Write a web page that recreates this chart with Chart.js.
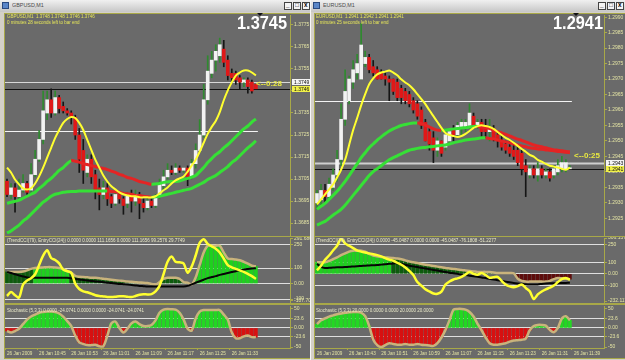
<!DOCTYPE html>
<html><head><meta charset="utf-8">
<script src="https://cdn.jsdelivr.net/npm/chart.js@4.4.1/dist/chart.umd.min.js"></script>
<style>
html,body{margin:0;padding:0}
body{width:625px;height:360px;overflow:hidden;background:#d4d0c8;position:relative;font-family:"Liberation Sans",Arial,sans-serif}
.title{position:absolute;top:0;height:12px;background:linear-gradient(#f0f0f0,#c6c6c6)}
.icon{position:absolute;left:2px;top:2px;width:7px;height:7px;background:#5a86c8;border:1px solid #2a4a80;box-sizing:border-box}
.tt{position:absolute;left:12px;top:2px;font-size:9px;color:#4a4a4a;transform:scale(0.6);transform-origin:0 0;white-space:nowrap}
.btn{position:absolute;top:2px;width:8px;height:8px;border:1px solid #444;background:#f4f4f4;box-sizing:border-box}
.btn b{position:absolute;left:1px;top:-1px;font-size:9px;line-height:9px;transform:scale(0.7);transform-origin:0 0;color:#000}
.frame{position:absolute;top:13px;height:346px;background:#6a6a6a;border-left:1px solid #a8a848;border-top:1px solid #a8a848;box-sizing:border-box}
.hl{position:absolute;height:1px;background:#a8a848}
canvas{position:absolute}
.s{position:absolute;white-space:nowrap;font-size:9px;line-height:9px;transform:scale(0.5);transform-origin:0 0;z-index:5}
.big{position:absolute;white-space:nowrap;font-size:19px;line-height:19px;font-weight:bold;color:#fff;transform:scaleX(0.86);transform-origin:0 0;z-index:5}
.arr{position:absolute;white-space:nowrap;font-size:8px;line-height:8px;font-weight:bold;color:#e8e840;z-index:5}
.tri{position:absolute;width:0;height:0;border-left:3px solid transparent;border-right:3px solid transparent;border-top:3px solid #111;z-index:5}
</style></head>
<body>
<!-- window chrome -->
<div class="title" style="left:0;width:310px"><div class="icon"></div><div class="tt">GBPUSD,M1</div>
  <div class="btn" style="left:284px"><b>_</b></div><div class="btn" style="left:293px"><b>□</b></div><div class="btn" style="left:302px"><b>x</b></div></div>
<div class="title" style="left:311px;width:314px"><div class="icon"></div><div class="tt">EURUSD,M1</div>
  <div class="btn" style="left:287px"><b>_</b></div><div class="btn" style="left:296px"><b>□</b></div><div class="btn" style="left:305px"><b>x</b></div></div>
<div style="position:absolute;left:310px;top:0;width:1px;height:360px;background:#f6f6f6"></div>
<div class="frame" style="left:4px;width:306px"></div>
<div class="frame" style="left:314px;width:311px"></div>
<div class="hl" style="left:4px;width:306px;top:236px"></div>
<div class="hl" style="left:4px;width:306px;top:303px;height:2px"></div>
<div class="hl" style="left:4px;width:306px;top:358px"></div>
<div class="hl" style="left:314px;width:311px;top:236px"></div>
<div class="hl" style="left:314px;width:311px;top:303px;height:2px"></div>
<div class="hl" style="left:314px;width:311px;top:358px"></div>

<canvas id="mainL" width="305" height="222" style="left:5px;top:14px"></canvas>
<canvas id="cciL" width="305" height="66" style="left:5px;top:237px"></canvas>
<canvas id="stoL" width="305" height="53" style="left:5px;top:305px"></canvas>
<canvas id="mainR" width="310" height="222" style="left:315px;top:14px"></canvas>
<canvas id="cciR" width="310" height="66" style="left:315px;top:237px"></canvas>
<canvas id="stoR" width="310" height="53" style="left:315px;top:305px"></canvas>

<!-- text overlays -->
<div class="s" style="left:7px;top:14px;color:#e6e65a">GBPUSD,M1&nbsp; 1.3748 1.3748 1.3746 1.3746</div>
<div class="s" style="left:7px;top:20px;color:#e6e65a">0 minutes 28 seconds left to bar end</div>
<div class="tri" style="left:257px;top:13px"></div>
<div class="big" style="left:237px;top:13px">1.3745</div>
<div class="arr" style="left:256px;top:80px">&lt;--0:28</div>
<div class="s" style="left:7px;top:238px;color:#e8e8c8">(TrendCCI(79), EntryCCI(24)) 0.0000 0.0000 111.1656 0.0000 111.1656 99.2576 29.7749</div>
<div class="s" style="left:7px;top:308px;color:#e8e8c8">Stochastic (5,3,3) 0.0000 -24.0741 0.0000 0.0000 -24.0741 -24.0741</div>

<div class="s" style="left:316px;top:14px;color:#e6e65a">EURUSD,M1&nbsp; 1.2941 1.2942 1.2941 1.2941</div>
<div class="s" style="left:316px;top:20px;color:#e6e65a">0 minutes 25 seconds left to bar end</div>
<div class="tri" style="left:573px;top:13px"></div>
<div class="big" style="left:553px;top:13px">1.2941</div>
<div class="arr" style="left:574px;top:152px">&lt;--0:25</div>
<div class="s" style="left:316px;top:238px;color:#e8e8c8">(TrendCCI(79), EntryCCI(24)) 0.0000 -45.0487 0.0000 0.0000 -45.0487 -76.1808 -51.2277</div>
<div class="s" style="left:316px;top:308px;color:#e8e8c8">Stochastic (5,3,3) 20.0000 0.0000 0.0000 20.0000 20.0000</div>

<script>
// ---------------- DATA ----------------
const leftTimes = ['26 Jan 2009','26 Jan 10:45','26 Jan 10:53','26 Jan 11:01','26 Jan 11:09','26 Jan 11:17','26 Jan 11:25','26 Jan 11:33'];
const rightTimes = ['26 Jan 2009','26 Jan 10:43','26 Jan 10:51','26 Jan 10:59','26 Jan 11:07','26 Jan 11:15','26 Jan 11:23','26 Jan 11:31','26 Jan 11:39'];

// GBPUSD M1
const gbpOpen = [1.3704,1.3698,1.3701,1.3697,1.3700,1.3703,1.3700,1.3707,1.3714,1.3723,
 1.3735,1.3741,1.3735,1.3742,1.3738,1.3736,1.3735,1.3733,1.3725,1.3718,
 1.3708,1.3714,1.3707,1.3701,1.3698,1.3701,1.3697,1.3694,1.3698,1.3696,
 1.3694,1.3698,1.3695,1.3698,1.3694,1.3692,1.3695,1.3693,1.3697,1.3702,
 1.3706,1.3709,1.3708,1.3710,1.3709,1.3710,1.3706,1.3712,1.3718,1.3725,
 1.3741,1.3753,1.3759,1.3761,1.3764,1.3759,1.3753,1.3753,1.3751,1.3749,
 1.3750,1.3749,1.3748];
const gbpHigh = [1.3705,1.3703,1.3703,1.3705,1.3707,1.3704,1.3712,1.3718,1.3727,1.3745,
 1.3745,1.3746,1.3745,1.3743,1.3740,1.3737,1.3736,1.3734,1.3728,1.3723,
 1.3716,1.3716,1.3709,1.3705,1.3704,1.3703,1.3698,1.3699,1.3699,1.3697,
 1.3699,1.3700,1.3700,1.3699,1.3696,1.3697,1.3696,1.3698,1.3705,1.3709,
 1.3712,1.3711,1.3712,1.3711,1.3710,1.3711,1.3714,1.3721,1.3732,1.3748,
 1.3761,1.3763,1.3766,1.3769,1.3768,1.3761,1.3755,1.3754,1.3752,1.3751,
 1.3751,1.3750,1.3748];
const gbpLow = [1.3697,1.3696,1.3690,1.3696,1.3699,1.3698,1.3699,1.3706,1.3713,1.3721,
 1.3732,1.3733,1.3734,1.3735,1.3735,1.3734,1.3730,1.3723,1.3708,1.3703,
 1.3706,1.3703,1.3696,1.3691,1.3696,1.3693,1.3692,1.3693,1.3694,1.3689,
 1.3692,1.3690,1.3693,1.3687,1.3690,1.3691,1.3692,1.3692,1.3696,1.3700,
 1.3705,1.3707,1.3707,1.3708,1.3708,1.3702,1.3705,1.3710,1.3717,1.3724,
 1.3739,1.3751,1.3754,1.3758,1.3756,1.3750,1.3749,1.3748,1.3746,1.3747,
 1.3744,1.3744,1.3746];
const gbpClose = [1.3698,1.3701,1.3697,1.3700,1.3703,1.3699,1.3707,1.3714,1.3723,1.3736,
 1.3741,1.3735,1.3742,1.3737,1.3736,1.3735,1.3733,1.3725,1.3714,1.3709,
 1.3714,1.3706,1.3700,1.3698,1.3701,1.3696,1.3694,1.3698,1.3696,1.3693,
 1.3698,1.3695,1.3698,1.3694,1.3692,1.3695,1.3693,1.3697,1.3703,1.3706,
 1.3709,1.3708,1.3710,1.3709,1.3710,1.3706,1.3712,1.3718,1.3725,1.3741,
 1.3754,1.3759,1.3763,1.3766,1.3758,1.3752,1.3751,1.3750,1.3749,1.3750,
 1.3747,1.3745,1.3746];
const gbpFastMA = [1.37102,1.37080,1.37048,1.37026,1.37008,1.37003,1.37008,1.37030,1.37062,1.37102,
 1.37147,1.37192,1.37237,1.37273,1.37305,1.37323,1.37332,1.37327,1.37305,1.37273,
 1.37228,1.37183,1.37138,1.37102,1.37066,1.37039,1.37017,1.37003,1.36990,1.36981,
 1.36976,1.36972,1.36972,1.36967,1.36967,1.36967,1.36967,1.36972,1.36985,1.36999,
 1.37012,1.37030,1.37044,1.37053,1.37062,1.37084,1.37111,1.37138,1.37174,1.37215,
 1.37255,1.37287,1.37314,1.37354,1.37408,1.37453,1.37489,1.37520,1.37534,1.37543,
 1.37543,1.37534,1.37520];
const gbpMidMA = [1.36940,1.36945,1.36949,1.36954,1.36963,1.36972,1.36981,1.36990,1.37008,1.37021,
 1.37039,1.37053,1.37071,1.37089,1.37102,1.37120,1.37134,1.37131,1.37127,1.37120,
 1.37116,1.37111,1.37107,1.37102,1.37098,1.37093,1.37086,1.37080,1.37071,1.37066,
 1.37057,1.37053,1.37046,1.37039,1.37035,1.37030,1.37026,1.37028,1.37030,1.37035,
 1.37037,1.37039,1.37039,1.37041,1.37048,1.37053,1.37059,1.37066,1.37084,1.37102,
 1.37125,1.37143,1.37161,1.37174,1.37192,1.37206,1.37224,1.37242,1.37260,1.37278,
 1.37291,1.37309,1.37323];
const gbpSlowMA = [1.36805,1.36814,1.36828,1.36841,1.36859,1.36873,1.36891,1.36909,1.36927,1.36945,
 1.36958,1.36972,1.36981,1.36985,1.36990,1.36992,1.36994,1.36994,1.36996,1.36996,
 1.36996,1.36996,1.36996,1.36996,1.36996,1.36996,1.36994,1.36992,1.36990,1.36985,
 1.36983,1.36981,1.36976,1.36974,1.36972,1.36970,1.36967,1.36970,1.36972,1.36976,
 1.36981,1.36985,1.36990,1.36994,1.36999,1.37003,1.37008,1.37017,1.37026,1.37035,
 1.37048,1.37057,1.37066,1.37080,1.37093,1.37107,1.37125,1.37138,1.37156,1.37174,
 1.37192,1.37206,1.37224];
const gbpTrendCCI = [75,75,75,75,78,85,95,100,102,104,
 106,106,104,101,95,80,70,50,44,42,
 40,38,37,35,31,28,25,22,19,16,
 13,11,9,7,6,3,-2,-6,10,30,
 37,37,37,30,10,6,-6,40,120,200,
 244,244,244,244,200,162,158,155,150,140,
 128,115,111];
const gbpCCIAvg = [75,68,60,53,46,40,37,37,37,37,
 37,37,37,37,37,37,35,30,26,23,
 20,17,14,12,9,6,3,1,-2,-4,
 -6,-9,-12,-15,-17,-19,-19,-19,-19,-19,
 -19,-19,-19,-19,-19,-15,-5,5,15,25,
 35,42,48,56,62,68,74,80,85,90,
 94,97,99];
const gbpEntryCCI = [-80,-55,-75,-90,-6,20,35,60,120,180,
 215,165,152,130,90,80,70,0,-35,-50,
 -56,-65,-75,-80,-83,-86,-87,-85,-82,-81,
 -85,-87,-80,-72,-69,-70,-68,-50,-15,60,
 140,175,140,137,130,70,110,181,262,285,
 256,240,225,200,160,119,105,95,85,75,
 62,48,30];
const gbpStoch = [-8,-12,-8,-2,10,22,30,35,40,42,
 43,43,42,38,30,18,5,-20,-38,-42,
 -45,-45,-44,-48,-48,-20,12,17,0,-12,
 -2,12,17,10,5,5,8,20,40,48,
 50,49,48,40,22,-2,-7,25,43,47,
 47,47,47,47,35,22,-12,-27,-27,-22,
 -20,-24,-24];
const gbpStrongRanges = [[7,15],[47,62]];
const gbpPriceTicks = [1.3685,1.3695,1.3705,1.3715,1.3725,1.3735,1.3745,1.3755,1.3765,1.3775];
const gbpCCITicks = [291.6803,250,100,0,-100,-107.707];
const gbpAsk = 1.3749, gbpBid = 1.3746, gbpLevel = 1.3727;

// EURUSD M1
const eurOpen = [1.2930,1.2931,1.2934,1.2932,1.2935,1.2939,1.2944,1.2957,1.2963,1.2969,
 1.2972,1.2970,1.2975,1.2977,1.2974,1.2973,1.2972,1.2971,1.2970,1.2970,
 1.2969,1.2967,1.2966,1.2965,1.2963,1.2962,1.2960,1.2956,1.2953,1.2951,
 1.2947,1.2950,1.2948,1.2950,1.2954,1.2952,1.2954,1.2954,1.2955,1.2958,
 1.2955,1.2956,1.2955,1.2953,1.2954,1.2952,1.2950,1.2949,1.2948,1.2947,
 1.2947,1.2946,1.2942,1.2939,1.2941,1.2939,1.2941,1.2939,1.2940,1.2939,
 1.2940,1.2941,1.2941,1.2941];
const eurHigh = [1.2934,1.2936,1.2936,1.2938,1.2941,1.2947,1.2962,1.2973,1.2971,1.2976,
 1.2978,1.2988,1.2979,1.2978,1.2976,1.2974,1.2973,1.2972,1.2971,1.2970,
 1.2970,1.2968,1.2967,1.2966,1.2964,1.2963,1.2961,1.2957,1.2954,1.2953,
 1.2951,1.2950,1.2954,1.2954,1.2955,1.2956,1.2957,1.2957,1.2962,1.2959,
 1.2957,1.2957,1.2957,1.2957,1.2955,1.2953,1.2952,1.2950,1.2950,1.2949,
 1.2948,1.2947,1.2944,1.2942,1.2942,1.2943,1.2942,1.2941,1.2941,1.2942,
 1.2944,1.2945,1.2944,1.2942];
const eurLow = [1.2928,1.2929,1.2930,1.2931,1.2934,1.2937,1.2942,1.2955,1.2962,1.2967,
 1.2970,1.2970,1.2974,1.2972,1.2971,1.2970,1.2970,1.2968,1.2963,1.2965,
 1.2963,1.2962,1.2962,1.2961,1.2959,1.2957,1.2954,1.2950,1.2947,1.2943,
 1.2945,1.2945,1.2947,1.2949,1.2950,1.2951,1.2952,1.2953,1.2954,1.2954,
 1.2954,1.2951,1.2951,1.2950,1.2950,1.2948,1.2947,1.2946,1.2945,1.2944,
 1.2942,1.2939,1.2932,1.2938,1.2938,1.2937,1.2938,1.2938,1.2937,1.2938,
 1.2939,1.2940,1.2940,1.2941];
const eurClose = [1.2933,1.2934,1.2932,1.2936,1.2939,1.2944,1.2957,1.2966,1.2970,1.2973,
 1.2975,1.2981,1.2977,1.2973,1.2972,1.2970,1.2970,1.2970,1.2969,1.2966,
 1.2964,1.2964,1.2963,1.2962,1.2960,1.2958,1.2955,1.2950,1.2949,1.2947,
 1.2950,1.2946,1.2952,1.2953,1.2952,1.2955,1.2956,1.2956,1.2959,1.2955,
 1.2956,1.2953,1.2953,1.2954,1.2951,1.2950,1.2948,1.2947,1.2946,1.2945,
 1.2943,1.2941,1.2940,1.2941,1.2939,1.2941,1.2939,1.2940,1.2938,1.2941,
 1.2942,1.2943,1.2943,1.2941];
const eurFastMA = [1.29295,1.29311,1.29327,1.29343,1.29359,1.29382,1.29407,1.29439,1.29487,1.29535,
 1.29574,1.29615,1.29651,1.29683,1.29702,1.29715,1.29721,1.29724,1.29728,1.29721,
 1.29712,1.29699,1.29689,1.29680,1.29667,1.29651,1.29635,1.29619,1.29599,1.29580,
 1.29561,1.29542,1.29526,1.29519,1.29516,1.29513,1.29516,1.29523,1.29532,1.29542,
 1.29548,1.29551,1.29548,1.29545,1.29539,1.29529,1.29519,1.29510,1.29503,1.29494,
 1.29484,1.29474,1.29465,1.29455,1.29449,1.29439,1.29433,1.29426,1.29420,1.29417,
 1.29414,1.29410,1.29407,1.29414];
const eurMidMA = [1.29279,1.29289,1.29298,1.29311,1.29324,1.29337,1.29353,1.29369,1.29388,1.29407,
 1.29426,1.29446,1.29462,1.29478,1.29490,1.29503,1.29513,1.29523,1.29532,1.29539,
 1.29545,1.29550,1.29553,1.29556,1.29558,1.29558,1.29556,1.29551,1.29545,1.29539,
 1.29535,1.29534,1.29535,1.29537,1.29539,1.29540,1.29542,1.29543,1.29545,1.29547,
 1.29547,1.29545,1.29543,1.29540,1.29535,1.29530,1.29526,1.29521,1.29516,1.29511,
 1.29506,1.29502,1.29497,1.29492,1.29487,1.29484,1.29481,1.29478,1.29474,1.29471,
 1.29470,1.29468,1.29466,1.29465];
const eurSlowMA = [1.29228,1.29234,1.29240,1.29250,1.29260,1.29269,1.29279,1.29292,1.29308,1.29324,
 1.29340,1.29356,1.29372,1.29388,1.29401,1.29410,1.29420,1.29430,1.29439,1.29446,
 1.29452,1.29458,1.29465,1.29470,1.29473,1.29476,1.29478,1.29479,1.29481,1.29482,
 1.29484,1.29486,1.29487,1.29490,1.29494,1.29497,1.29500,1.29503,1.29505,1.29506,
 1.29508,1.29510,1.29510,1.29508,1.29506,1.29503,1.29500,1.29497,1.29494,1.29490,
 1.29487,1.29484,1.29481,1.29478,1.29476,1.29474,1.29473,1.29471,1.29470,1.29468,
 1.29466,1.29465,1.29463,1.29462];
const eurTrendCCI = [99,99,99,110,125,140,160,175,190,198,
 198,198,190,170,157,150,145,140,138,135,
 132,125,115,105,99,92,85,78,74,68,
 62,56,50,46,42,38,33,29,25,21,
 17,17,17,15,12,8,8,8,8,5,
 -40,-60,-66,-66,-66,-66,-66,-66,-60,-45,
 -35,-38,-42,-45];
const eurCCIAvg = [85,60,50,52,54,56,57,58,60,63,
 66,68,70,72,74,76,79,82,86,89,
 91,86,78,70,64,58,52,46,40,34,
 28,22,16,10,5,0,-5,-10,-15,-20,
 -25,-30,-36,-42,-48,-54,-60,-66,-72,-78,
 -82,-85,-88,-90,-91,-90,-86,-82,-80,-80,
 -79,-78,-77,-76];
const eurEntryCCI = [30,70,120,157,200,240,300,260,240,220,
 200,190,182,175,168,160,150,135,122,112,
 95,78,55,25,-10,-70,-100,-132,-150,-168,
 -170,-152,-91,-65,-48,-38,-25,-5,17,0,
 -8,8,-10,-33,-28,-25,-60,-90,-107,-114,
 -105,-91,-120,-149,-215,-175,-150,-132,-118,-100,
 -70,-45,-35,-51];
const eurStoch = [10,20,25,30,33,36,38,40,41,42,
 42,40,31,5,-30,-45,-50,-45,-40,-42,
 -44,-44,-42,-44,-44,-42,-44,-45,-46,-47,
 -40,-25,-5,20,48,50,50,48,42,30,
 11,-6,-25,-40,-44,-44,-42,-40,-36,-33,
 -32,-31,-28,-6,5,8,8,6,-5,-11,
 0,25,31,20];
const eurStrongRanges = [[0,18]];
const eurPriceTicks = [1.2925,1.2930,1.2935,1.2940,1.2945,1.2950,1.2955,1.2960,1.2965,1.2970,1.2975,1.2980,1.2985,1.2990];
const eurCCITicks = [306.1376,250,100,0,-100,-232.117];
const eurAsk = 1.2943, eurBid = 1.2941, eurLevel = 1.2963;

const stochTicks = [50,23.6,0,-23.6,-50];
const cciLevels = [250,100,0,-100];
const stochLevels = [23.6,0,-23.6];

// ---------------- STYLE / BUILD ----------------
const GREEN='#36e036', RED='#e42424', YEL='#ffff30', TAN='#c9b37c', OLIVE='#a8a848', LBL='#e4e4a4';
const FONT = {family:'Liberation Sans', size:5, lineHeight:0};

function yAxis(min, max, ticks, fmt, levels, w) {
  return {
    position:'right', min, max,
    afterBuildTicks: s => { s.ticks = ticks.map(v => ({value:v})); },
    afterFit: s => { s.width = w; },
    ticks:{color:LBL, font:FONT, padding:1, autoSkip:false, callback:v => fmt(v)},
    grid:{drawOnChartArea: !!levels, drawTicks:true, tickLength:3, tickColor:OLIVE, tickBorderDash:[],
      color: c => (levels && levels.includes(c.tick.value)) ? 'rgba(236,236,236,0.9)' : 'rgba(0,0,0,0)',
      borderDash:[1,2], lineWidth:1},
    border:{display:true, color:OLIVE, width:1}
  };
}
const hiddenX = {display:false, offset:true};
function timeX(times) {
  return {offset:true, afterFit:s => { s.height = 10; },
    ticks:{autoSkip:false, maxRotation:0, minRotation:0, align:'start', padding:1, color:LBL,
      font:{family:'Liberation Sans', size:4.6, lineHeight:1},
      callback:(v,i) => (i % 8 === 0 && times[i/8]) ? times[i/8] : ''},
    grid:{drawOnChartArea:false, drawTicks:true, tickLength:2,
      color:c => (c.index % 8 === 0 && times[c.index/8]) ? OLIVE : 'rgba(0,0,0,0)'},
    border:{display:true, color:OLIVE}};
}
const base = {responsive:false, animation:false, devicePixelRatio:1, events:[],
  layout:{padding:0}, plugins:{legend:{display:false}, tooltip:{enabled:false}}};
const seg = ctx => (ctx.p1.parsed.y < ctx.p0.parsed.y - 1e-9) ? RED : GREEN;
const cats = n => Array.from({length:n}, (_, i) => i);

function marks(cfg) {
  return {
    id:'marks',
    beforeDatasetsDraw(chart) {
      const {ctx, chartArea:a, scales:{x, y}} = chart;
      ctx.save();
      cfg.lines.forEach(L => {
        const py = Math.round(y.getPixelForValue(L.value)) + 0.5;
        const xe = (L.toIndex != null) ? x.getPixelForValue(L.toIndex) + 2 : a.right;
        ctx.strokeStyle = L.color; ctx.lineWidth = L.width;
        ctx.beginPath(); ctx.moveTo(a.left, py); ctx.lineTo(xe, py); ctx.stroke();
      });
      ctx.restore();
    },
    afterDraw(chart) {
      const {ctx, chartArea:a, scales:{y}} = chart;
      ctx.save();
      cfg.boxes.forEach(B => {
        const py = Math.round(y.getPixelForValue(B.value));
        ctx.fillStyle = B.bg; ctx.fillRect(a.right + 2, py - 3, 18, 6);
        ctx.fillStyle = '#111'; ctx.font = '5px "Liberation Sans"'; ctx.textBaseline = 'middle';
        ctx.fillText(B.text, a.right + 4, py + 0.5);
      });
      ctx.restore();
    }
  };
}

function priceChart(id, n, o, h, l, c, fast, mid, slow, yMin, yMax, ticks, w, mk) {
  const up = i => c[i] >= o[i];
  return new Chart(document.getElementById(id), {
    type:'bar',
    data:{labels:cats(n), datasets:[
      {type:'line', data:fast, borderColor:YEL, borderWidth:2, pointRadius:0, tension:0.3, order:0},
      {type:'line', data:mid, borderColor:GREEN, borderWidth:3, pointRadius:0, tension:0.3, segment:{borderColor:seg}, order:1},
      {type:'line', data:slow, borderColor:GREEN, borderWidth:3, pointRadius:0, tension:0.3, segment:{borderColor:seg}, order:2},
      {type:'bar', data:o.map((v,i) => [v, c[i]]), backgroundColor:x => up(x.dataIndex) ? '#f2f2f2' : '#e01818',
        barThickness:3, grouped:false, minBarLength:1, order:3},
      {type:'bar', data:l.map((v,i) => [v, h[i]]), backgroundColor:x => up(x.dataIndex) ? '#2f8a2f' : '#151515',
        barThickness:1, grouped:false, order:4}
    ]},
    options:Object.assign({}, base, {scales:{x:hiddenX, y:yAxis(yMin, yMax, ticks, v => v.toFixed(4), null, w)}}),
    plugins:[marks(mk)]
  });
}

const lvlFmt = v => v === 0 ? '0.00' : String(v);
function cciChart(id, n, trend, avg, entry, strong, min, max, ticks, w) {
  const isStrong = i => strong.some(([s, e]) => i >= s && i <= e);
  return new Chart(document.getElementById(id), {
    type:'bar',
    data:{labels:cats(n), datasets:[
      {type:'line', data:entry, borderColor:YEL, borderWidth:2.5, pointRadius:0, tension:0.3, order:0},
      {type:'line', data:avg, borderColor:'#050505', borderWidth:2, pointRadius:0, tension:0.3, order:1},
      {type:'line', data:trend, borderColor:TAN, borderWidth:2.5, pointRadius:0, tension:0.3, order:2},
      {type:'bar', data:trend, barThickness:3, grouped:false, order:3,
        backgroundColor:x => { const v = trend[x.dataIndex]; return v < 0 ? '#5e0c0c' : (isStrong(x.dataIndex) ? '#1fd01f' : '#0d5c0d'); }}
    ]},
    options:Object.assign({}, base, {scales:{x:hiddenX, y:yAxis(min, max, ticks, lvlFmt, cciLevels, w)}})
  });
}
function stochChart(id, n, st, times, w) {
  return new Chart(document.getElementById(id), {
    type:'bar',
    data:{labels:cats(n), datasets:[
      {type:'line', data:st, borderColor:TAN, borderWidth:2.5, pointRadius:0, tension:0.3, order:0},
      {type:'bar', data:st, barThickness:3, grouped:false, order:1,
        backgroundColor:x => st[x.dataIndex] >= 0 ? '#22d822' : '#d81010'}
    ]},
    options:Object.assign({}, base, {scales:{x:timeX(times), y:yAxis(-52.6, 57.7, stochTicks, lvlFmt, stochLevels, w)}})
  });
}

// left window: GBPUSD
const nL = 71, nR = 72;
priceChart('mainL', nL, gbpOpen, gbpHigh, gbpLow, gbpClose, gbpFastMA, gbpMidMA, gbpSlowMA,
  1.36796, 1.37795, gbpPriceTicks, 20, {
    lines:[{value:gbpLevel, color:'#f4f4f4', width:1, toIndex:gbpClose.length - 1},
           {value:gbpAsk, color:'#d8d8d8', width:1},
           {value:gbpBid, color:'#111111', width:1}],
    boxes:[{value:gbpAsk, text:gbpAsk.toFixed(4), bg:'#f4f4f4'},
           {value:gbpBid, text:gbpBid.toFixed(4), bg:'#f0f048'}]});
cciChart('cciL', nL, gbpTrendCCI, gbpCCIAvg, gbpEntryCCI, gbpStrongRanges, -118.75, 293.75, gbpCCITicks, 20);
stochChart('stoL', nL, gbpStoch, leftTimes, 20);

// right window: EURUSD
priceChart('mainR', nR, eurOpen, eurHigh, eurLow, eurClose, eurFastMA, eurMidMA, eurSlowMA,
  1.29196, 1.29907, eurPriceTicks, 21, {
    lines:[{value:eurLevel, color:'#f4f4f4', width:1, toIndex:eurClose.length - 1},
           {value:eurAsk, color:'#cfcfcf', width:2},
           {value:eurBid, color:'#111111', width:1}],
    boxes:[{value:eurAsk, text:eurAsk.toFixed(4), bg:'#f4f4f4'},
           {value:eurBid, text:eurBid.toFixed(4), bg:'#f0f048'}]});
cciChart('cciR', nR, eurTrendCCI, eurCCIAvg, eurEntryCCI, eurStrongRanges, -240, 306.2, eurCCITicks, 21);
stochChart('stoR', nR, eurStoch, rightTimes, 21);
</script>
</body></html>
